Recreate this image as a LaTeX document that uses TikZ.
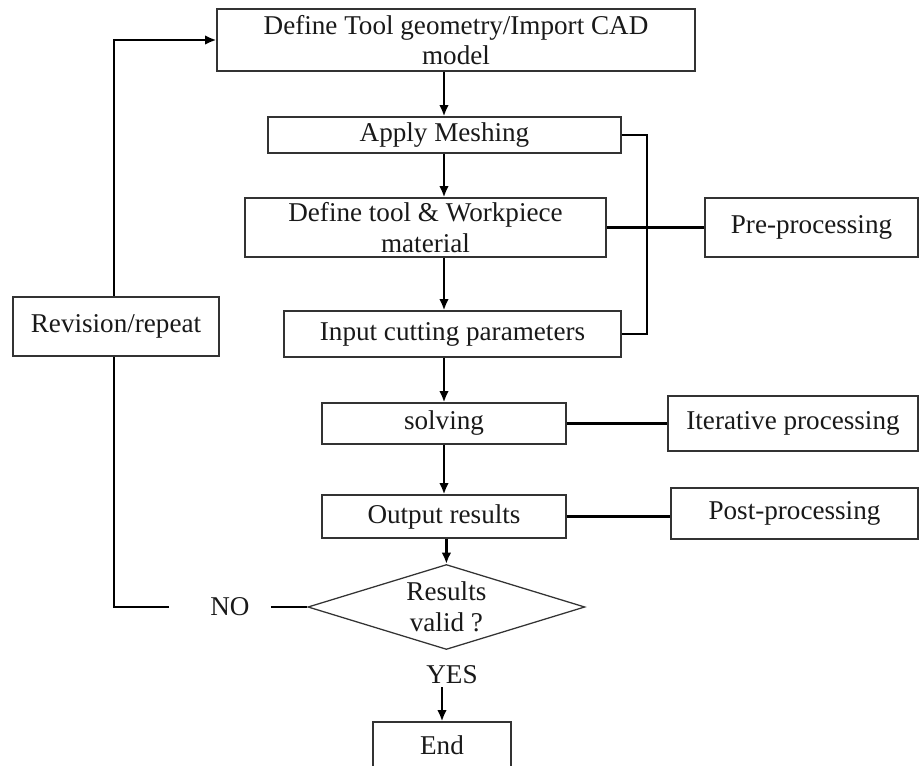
\documentclass[tikz,border=0pt]{standalone}
\usepackage{fontspec}
\setmainfont{Liberation Serif}
\usetikzlibrary{arrows.meta,shapes.geometric}

\begin{document}
\begin{tikzpicture}[line width=1.7pt,
  font=\fontsize{19.3}{21.7}\selectfont, text=black!90,
  box/.style={draw=black!80,line width=0.9pt,fill=white,align=center,inner sep=0pt},
  arr/.style={-{Latex[length=2.8mm,width=2.4mm]}},
  lbl/.style={inner sep=1.5pt}]
  \useasboundingbox (0,0) rectangle (23,-19.15);
  \coordinate (spine) at (11.1,0);
  \coordinate (brk) at (16.175,0);
  \coordinate (turn) at (2.85,-1.0);

  \node[box,minimum width=11.95cm,minimum height=1.55cm] (geom) at (11.4,-1.0){Define Tool geometry/Import CAD\\model};
  \node[box,minimum width=8.825cm,minimum height=0.9cm] (mesh) at (11.1125,-3.375){Apply Meshing};
  \node[box,minimum width=9.025cm,minimum height=1.475cm] (matl) at (10.6375,-5.6875){Define tool \& Workpiece\\material};
  \node[box,minimum width=8.425cm,minimum height=1.15cm] (param) at (11.3125,-8.35){Input cutting parameters};
  \node[box,minimum width=6.1cm,minimum height=1.025cm] (solve) at (11.1,-10.5875){solving};
  \node[box,minimum width=6.1cm,minimum height=1.075cm] (output) at (11.1,-12.9125){Output results};
  \node[box,diamond,aspect=3.26,minimum width=6.925cm,minimum height=2.125cm] (valid) at (11.16,-15.175){Results\\valid ?};
  \node[box,minimum width=3.45cm,minimum height=1.15cm] (stop) at (11.05,-18.625){End};
  \node[box,minimum width=5.325cm,minimum height=1.475cm] (pre) at (20.2875,-5.6875){Pre-processing};
  \node[box,minimum width=6.25cm,minimum height=1.375cm] (iter) at (19.825,-10.5875){Iterative processing};
  \node[box,minimum width=6.175cm,minimum height=1.275cm] (post) at (19.8625,-12.8375){Post-processing};
  \node[lbl] (no) at (5.75,-15.175){NO};
  \node[lbl] (yes) at (11.3,-16.875){YES};

  \draw[arr] (spine |- geom.south) -- (mesh.north -| spine);
  \draw[arr] (spine |- mesh.south) -- (spine |- matl.north);
  \draw[arr] (spine |- matl.south) -- (spine |- param.north);
  \draw[arr] (spine |- param.south) -- (spine |- solve.north);
  \draw[arr] (spine |- solve.south) -- (spine |- output.north);
  \draw[arr] (valid.north |- output.south) -- (valid.north);
  \draw[arr] (yes.south -| stop) -- (stop.north);

  \draw (mesh.east) -| (brk |- param.east) -- (param.east);
  \draw (matl.east) -- (pre.west);
  \draw (solve.east) -- (solve.east -| iter.west);
  \draw (output.east) -- (output.east -| post.west);

  \draw ([xshift=0.45cm]no.east) -- (valid.west);
  \draw[arr] ([xshift=-0.95cm]no.west) -| (turn) -- (geom.west);
  \node[box,minimum width=5.15cm,minimum height=1.475cm] (rev) at (2.9,-8.1625){Revision/repeat};
\end{tikzpicture}
\end{document}
